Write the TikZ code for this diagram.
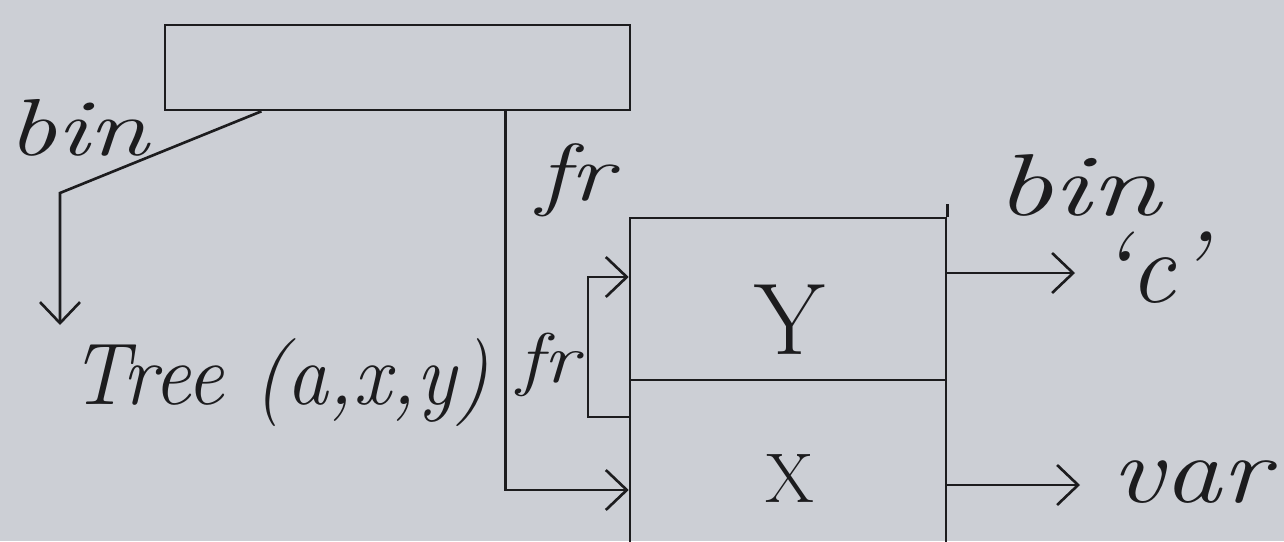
\documentclass[tikz,border=0pt]{standalone}
\usetikzlibrary{arrows.meta,calc}
\usepackage{graphicx}
\definecolor{paper}{RGB}{204,207,213}
\definecolor{ink}{RGB}{28,28,30}
\begin{document}
\begin{tikzpicture}[x=0.02cm,y=-0.02cm,
  line width=1.5pt, draw=ink,
  >={Straight Barb[length=0.42cm,width=0.8cm,line width=1.5pt]},
  box/.style={draw=ink, rectangle, inner sep=0pt, line width=1.5pt},
  lbl/.style={text=ink, inner sep=0pt, font=\itshape}]
\useasboundingbox (0,0) rectangle (1284,541);
\fill[paper] (0,0) rectangle (1284,541);
\clip (0,0) rectangle (1284,541);
% boxes
\node[box, minimum width=9.3cm, minimum height=1.7cm] (top) at (397.5,67.5) {};
\node[box, minimum width=6.32cm, minimum height=3.24cm] (ybox) at (788,299) {};
\node[box, minimum width=6.32cm, minimum height=3.6cm] (xbox) at (788,470) {};
% texts
\node[lbl, font=\fontsize{46}{46}\selectfont\itshape] (bin1) at (78,128) {\scalebox{1.35}[1]{bin}};
\node[lbl, font=\fontsize{50}{50}\selectfont\itshape] (tree) at (280,383) {\scalebox{0.95}[1]{Tree (a,x,y)}};
\node[lbl, font=\fontsize{46}{46}\selectfont\itshape] (fr1) at (575,180) {\scalebox{1.3}[1]{fr}};
\node[lbl, font=\fontsize{40}{40}\selectfont\itshape] (fr2) at (548,365) {\scalebox{1.2}[1]{fr}};
\node[lbl, font=\fontsize{50}{50}\selectfont\itshape] (bin2) at (1078,185) {\scalebox{1.45}[1]{bin}};
\node[lbl, font=\fontsize{58}{58}\selectfont\itshape] (cc) at (1152,268) {`c'};
\node[lbl, font=\fontsize{54}{54}\selectfont\itshape] (var) at (1190,482) {\scalebox{1.22}[1]{var}};
\node[lbl, font=\fontsize{58}{58}\selectfont] (Y) at (790,320) {Y};
\node[lbl, font=\fontsize{40}{40}\selectfont] (X) at (790,478) {X};
% helper coordinates
\coordinate (bend) at (60,193);
\coordinate (tip) at (60,325);
\coordinate (j) at (505,490);
\coordinate (bb) at (588,417);
\coordinate (bt) at (588,277);
\coordinate (c1) at (1075,273);
\coordinate (c2) at (1080,485);
% connectors
\draw[->] ($(top.south west)!0.209!(top.south east)$) -- (bend) -- (tip);
\draw[->] ($(top.south west)!0.731!(top.south east)$) |- (xbox.west |- j);
\draw[->] (bb -| xbox.west) -- (bb) -- (bt) -- (bt -| ybox.west);
\draw[->] (c1 -| ybox.east) -- (c1);
\draw[->] (c2 -| xbox.east) -- (c2);
\draw (ybox.north east) -- ++(0,-13);
\end{tikzpicture}
\end{document}
